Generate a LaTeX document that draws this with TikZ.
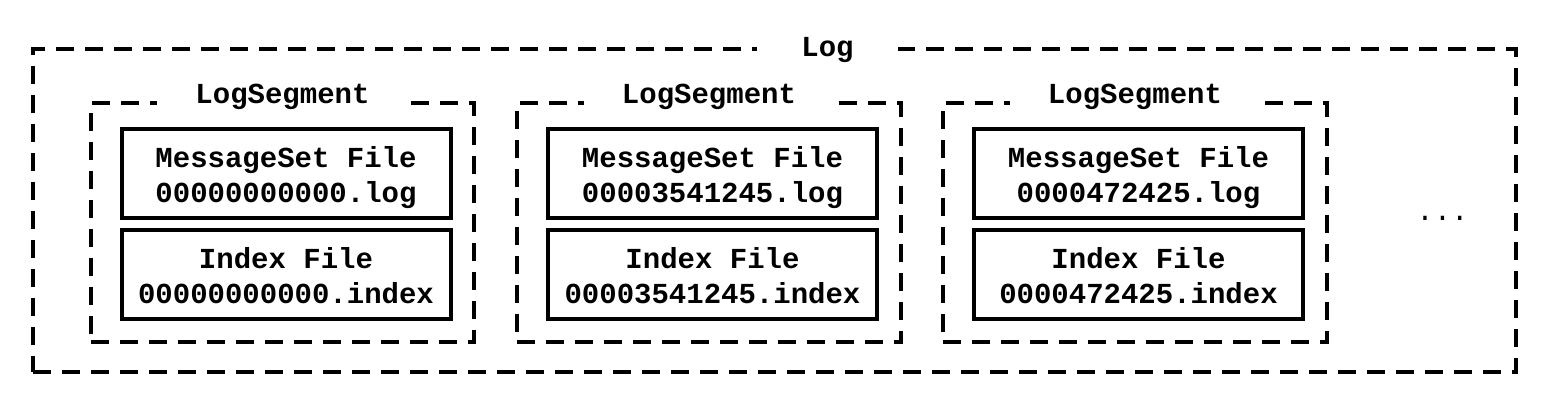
\documentclass[tikz,border=0pt]{standalone}
\usepackage{fontspec}
\setmonofont{Liberation Mono}
\usetikzlibrary{fit}
\tikzset{
  dashbox/.style={draw, line width=2pt, dash pattern=on 9pt off 5.5pt, inner sep=0pt},
  filebox/.style={draw, line width=2pt, minimum width=164.5pt, minimum height=44.5pt,
    inner sep=0pt, align=center, text depth=0pt,
    font=\ttfamily\bfseries\fontsize{14.5}{17.5}\selectfont},
  seglabel/.style={fill=white, inner xsep=19pt, inner ysep=2pt, anchor=base,
    font=\ttfamily\bfseries\fontsize{14.5}{17.5}\selectfont},
  dotstext/.style={anchor=base, inner sep=0pt, font=\ttfamily\fontsize{14.5}{17.5}\selectfont}
}
\begin{document}
\begin{tikzpicture}[x=0.5pt,y=-0.5pt]
\useasboundingbox (0,0) rectangle (1558,406);
% outer Log box
\node[dashbox, fit={(33,49) (1516,372)}] (log) {};
% segments
\node[dashbox, fit={(91,103) (474,342)}] (seg1) {};
\node[dashbox, fit={(517,103) (901,342)}] (seg2) {};
\node[dashbox, fit={(943,103) (1327,342)}] (seg3) {};
% labels
\node[seglabel, inner xsep=22pt] (loglbl) at (827.5,57) {Log};
\node[seglabel] (seg1lbl) at (282.5,104) {LogSegment};
\node[seglabel] (seg2lbl) at (709,104) {LogSegment};
\node[seglabel] (seg3lbl) at (1135,104) {LogSegment};
% files
\node[filebox, yshift=-1.5pt] (m1) at (286,171) {MessageSet File\\00000000000.log};
\node[filebox, yshift=1pt] (i1) at (286,277) {Index File\\00000000000.index};
\node[filebox, yshift=-1.5pt] (m2) at (712.5,171) {MessageSet File\\00003541245.log};
\node[filebox, yshift=1pt] (i2) at (712.5,277) {Index File\\00003541245.index};
\node[filebox, yshift=-1.5pt] (m3) at (1138.5,171) {MessageSet File\\0000472425.log};
\node[filebox, yshift=1pt] (i3) at (1138.5,277) {Index File\\0000472425.index};
% more
\node[dotstext] (more) at (1442.5,221) {...};
\end{tikzpicture}
\end{document}
